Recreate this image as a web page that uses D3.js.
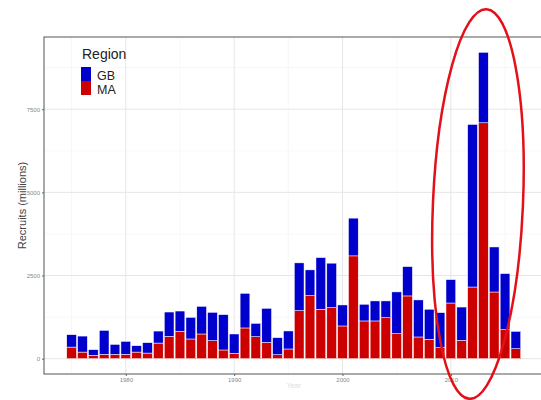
<!DOCTYPE html>
<html><head><meta charset="utf-8">
<script src="https://cdn.jsdelivr.net/npm/d3@7"></script>
<style>body{margin:0;background:#fff;font-family:"Liberation Sans",Arial,sans-serif}</style>
</head><body>
<script>
const years = d3.range(1975, 2017);
const maValues = [349,199,100,130,130,130,199,169,470,671,822,593,743,542,262,160,924,662,491,120,292,1445,1896,1487,1535,984,3091,1135,1135,1234,753,1887,653,584,331,1674,551,2155,7092,2005,873,301];
const gbValues = [373,481,171,722,300,391,192,313,361,732,611,650,831,852,1062,583,1042,401,1023,512,542,1436,774,1553,1337,632,1135,502,602,503,1255,882,1114,903,1054,704,1002,4888,2119,1354,1686,521];
const regions = ["MA","GB"];
const regionColors = {GB:"#0000CD", MA:"#CD0000"};
const yTicks = [0,2500,5000,7500];
const xTicks = [1980,1990,2000,2010];

const W=541,H=400;
const svg=d3.select("body").append("svg").attr("width",W).attr("height",H);
const L=44,R=543.5,T=37,B=374;
const x=d3.scaleLinear().domain([1972.45,2018.55]).range([L,R]);
const y=d3.scaleLinear().domain([-460,9671]).range([B,T]);

// gridlines
const g=svg.append("g");
const minorY=[1250,3750,6250,8750];
g.selectAll(".my").data(minorY).join("line").attr("x1",L).attr("x2",R).attr("y1",d=>y(d)).attr("y2",d=>y(d)).attr("stroke","#f4f4f4").attr("stroke-width",0.6);
g.selectAll(".mx").data([1975,1985,1995,2005,2015]).join("line").attr("y1",T).attr("y2",B).attr("x1",d=>x(d)).attr("x2",d=>x(d)).attr("stroke","#f4f4f4").attr("stroke-width",0.6);
g.selectAll(".gy").data(yTicks).join("line").attr("x1",L).attr("x2",R).attr("y1",d=>y(d)).attr("y2",d=>y(d)).attr("stroke","#e6e6e6").attr("stroke-width",1);
g.selectAll(".gx").data(xTicks).join("line").attr("y1",T).attr("y2",B).attr("x1",d=>x(d)).attr("x2",d=>x(d)).attr("stroke","#e6e6e6").attr("stroke-width",1);

// stacked bars
const rows=years.map((yr,i)=>({year:yr,MA:maValues[i],GB:gbValues[i]}));
const stack=d3.stack().keys(regions)(rows);
const bw=x(1975.45)-x(1975);
svg.append("g").selectAll("g").data(stack).join("g").attr("fill",d=>regionColors[d.key])
  .selectAll("rect").data(d=>d).join("rect")
  .attr("x",d=>x(d.data.year)-bw).attr("width",bw*2)
  .attr("y",d=>y(d[1])).attr("height",d=>y(d[0])-y(d[1]))
  .attr("stroke","#fff").attr("stroke-width",0.5);

// panel border
svg.append("rect").attr("x",L).attr("y",T).attr("width",R-L).attr("height",B-T).attr("fill","none").attr("stroke","#555").attr("stroke-width",1);

// axes
const ax=svg.append("g").attr("transform",`translate(0,${B})`).call(d3.axisBottom(x).tickValues(xTicks).tickFormat(d3.format("d")).tickSize(2).tickPadding(2));
const ay=svg.append("g").attr("transform",`translate(${L},0)`).call(d3.axisLeft(y).tickValues(yTicks).tickFormat(d3.format("d")).tickSize(2).tickPadding(2));
[ax,ay].forEach(a=>{a.select(".domain").remove();a.selectAll("line").attr("stroke","#666");a.selectAll("text").attr("fill","#888").attr("font-size",6).attr("font-family","Liberation Sans, Arial, sans-serif");});

// axis titles
svg.append("text").attr("transform",`translate(26,${(T+B)/2}) rotate(-90)`).attr("text-anchor","middle").attr("font-size",11).attr("fill","#444").text("Recruits (millions)");
svg.append("text").attr("x",(L+R)/2).attr("y",388).attr("text-anchor","middle").attr("font-size",7).attr("fill","#ddd").text("Year");

// legend
const lg=svg.append("g");
lg.append("text").attr("x",82).attr("y",59).attr("font-size",14).attr("fill","#222").text("Region");
const legItems=["GB","MA"];
lg.selectAll("rect").data(legItems).join("rect").attr("x",81).attr("y",(d,i)=>67+i*14).attr("width",10).attr("height",14).attr("fill",d=>regionColors[d]);
lg.selectAll(".lt").data(legItems).join("text").attr("x",97).attr("y",(d,i)=>79.5+i*14.5).attr("font-size",12.5).attr("fill","#222").text(d=>d);

// annotation ellipse
const cx=x(2012.5), cy=y(4650);
svg.append("ellipse").attr("cx",cx).attr("cy",cy).attr("rx",45).attr("ry",195)
  .attr("transform",`rotate(2.5,${cx},${cy})`).attr("fill","none").attr("stroke","#e3101a").attr("stroke-width",2.5);
</script>
</body></html>
